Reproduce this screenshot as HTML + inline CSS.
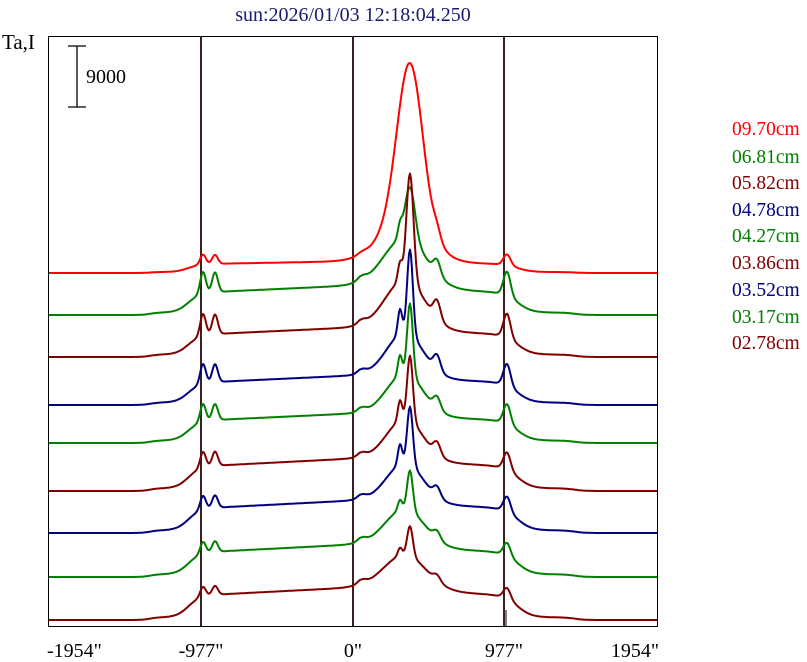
<!DOCTYPE html>
<html><head><meta charset="utf-8"><style>
html,body{margin:0;padding:0;background:#fff;}
svg{display:block;}
</style></head><body>
<svg id="s" width="807" height="662" xmlns="http://www.w3.org/2000/svg" font-family="Liberation Serif, serif">
<rect x="0" y="0" width="807" height="662" fill="#fff"/>
<text x="353" y="21" text-anchor="middle" font-size="20" fill="#1a1a6e">sun:2026/01/03 12:18:04.250</text>
<text x="2" y="49" font-size="21" fill="#000">Ta,I</text>
<rect x="48.5" y="36.5" width="609" height="590" fill="none" stroke="#000" stroke-width="1"/>
<g stroke="#3a2020" stroke-width="2">
<line x1="201" y1="36" x2="201" y2="626"/>
<line x1="353" y1="36" x2="353" y2="626"/>
<line x1="504" y1="36" x2="504" y2="626"/>
</g>
<line x1="506" y1="610" x2="506" y2="626" stroke="#000" stroke-width="1"/>
<g stroke="#000" stroke-width="1.3">
<line x1="77" y1="46" x2="77" y2="107"/>
<line x1="68" y1="46" x2="86" y2="46"/>
<line x1="68" y1="107" x2="86" y2="107"/>
</g>
<text x="86" y="83" font-size="20">9000</text>
<g id="curves" fill="none" stroke-width="2" stroke-linejoin="round"></g>
<g font-size="20" fill="#000">
<text x="47" y="657">-1954"</text>
<text x="201" y="657" text-anchor="middle">-977"</text>
<text x="353" y="657" text-anchor="middle">0"</text>
<text x="504" y="657" text-anchor="middle">977"</text>
<text x="659" y="657" text-anchor="end">1954"</text>
</g>
<g font-size="19.5">
<text x="732" y="135" fill="#ff0000">09.70cm</text>
<text x="732" y="163" fill="#008000">06.81cm</text>
<text x="732" y="189" fill="#800000">05.82cm</text>
<text x="732" y="216" fill="#000080">04.78cm</text>
<text x="732" y="242" fill="#008000">04.27cm</text>
<text x="732" y="269" fill="#800000">03.86cm</text>
<text x="732" y="296" fill="#000080">03.52cm</text>
<text x="732" y="323" fill="#008000">03.17cm</text>
<text x="732" y="349" fill="#800000">02.78cm</text>
</g>
</svg>
<script>
var S=[
{y:273,c:"#ff0000",d:8,l:10,br:40,bw:34,a:160,w:18,b:0,c2:8,n:0.5},
{y:315,c:"#008000",d:20,l:22,br:50,bw:30,a:52,w:7,b:12,c2:14,n:1},
{y:357,c:"#800000",d:20,l:22,br:50,bw:28,a:108,w:5,b:18,c2:18,n:1},
{y:405,c:"#000080",d:20,l:20,br:45,bw:26,a:85,w:4,b:25,c2:15,n:1},
{y:443,c:"#008000",d:20,l:18,br:42,bw:26,a:72,w:4,b:20,c2:12,n:1},
{y:491,c:"#800000",d:22,l:16,br:42,bw:26,a:65,w:4,b:20,c2:12,n:1},
{y:533,c:"#000080",d:22,l:14,br:40,bw:26,a:58,w:4,b:20,c2:10,n:1},
{y:577,c:"#008000",d:22,l:12,br:38,bw:28,a:40,w:4,b:10,c2:8,n:1},
{y:620,c:"#800000",d:22,l:10,br:35,bw:30,a:30,w:4,b:8,c2:6,n:1}];
function g(x,m,w){return Math.exp(-Math.pow((x-m)/w,2));}
function sg(x,m,w){return 1/(1+Math.exp(-(x-m)/w));}
var out="";
S.forEach(function(p){
 var pts=[];
 for(var x=49;x<=657;x++){
  var e=sg(x,188,6)*sg(-x,-518,7);
  var slope=1+0.35*(x-201)/150; if(x>360)slope=1+0.35*(1-(x-360)/150);
  var h=p.d*e*slope + p.d*0.12*sg(x,150,4)*sg(-x,-575,5);
  h+=p.l*(g(x,203,4)+g(x,215,4)*0.9)+p.l*1.1*g(x,507,5);
  h+=p.br*g(x,405,p.bw)+p.a*g(x,410,p.w)+p.b*g(x,400,3)+p.c2*g(x,437,5);
  h+=p.n*4*g(x,362,6);
  pts.push(x+","+(p.y-h).toFixed(1));
 }
 out+='<polyline stroke="'+p.c+'" points="'+pts.join(" ")+'"/>';
});
document.getElementById("curves").innerHTML=out;
</script>
</body></html>
